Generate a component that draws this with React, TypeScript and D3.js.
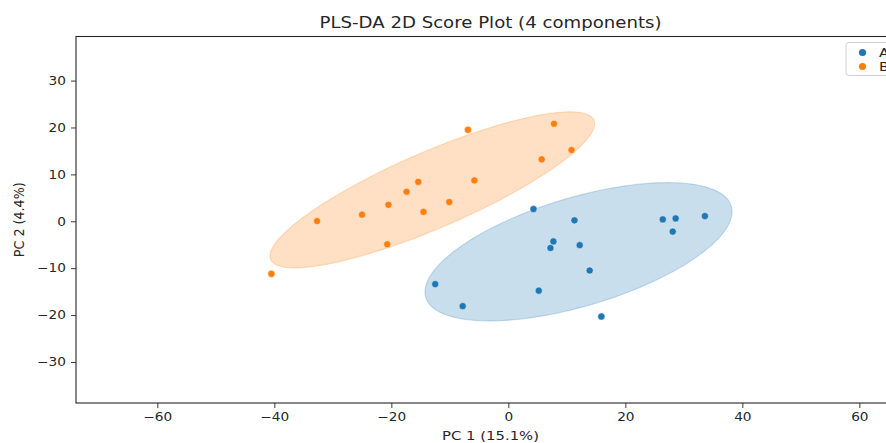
import React, { useEffect, useRef } from 'react';
import * as d3 from 'd3';

// PLS-DA scores, group A (blue)
const scoresA_pc1 = [4.3, 11.3, 7.7, 7.2, 12.2, 13.9, -12.5, -7.8, 5.2, 15.9, 26.4, 28.6, 28.1, 33.6];
const scoresA_pc2 = [2.6, 0.2, -4.3, -5.7, -5.1, -10.5, -13.4, -18.1, -14.8, -20.3, 0.4, 0.6, -2.2, 1.1];

// PLS-DA scores, group B (orange)
const scoresB_pc1 = [-32.7, -25.0, -20.5, -17.4, -15.4, -14.5, -20.7, -10.1, -5.8, -6.9, 5.7, 7.8, 10.8, -40.5];
const scoresB_pc2 = [0.05, 1.4, 3.5, 6.3, 8.4, 2.0, -4.9, 4.1, 8.7, 19.5, 13.2, 20.8, 15.2, -11.2];

const groups = ['A', 'B'];
const groupColors = ['#1f77b4', '#ff7f0e'];

// confidence ellipses (data units), one per group
const ellipseCenterX = [12.0, -13.0];
const ellipseCenterY = [-6.5, 6.7];
const ellipseRadiusMajor = [27.9, 31.4];
const ellipseRadiusMinor = [11.3, 7.8];
const ellipseAngle = [21.8, 28.9]; // degrees

const xTicks = [-60, -40, -20, 0, 20, 40, 60];
const yTicks = [-30, -20, -10, 0, 10, 20, 30];

const title = 'PLS-DA 2D Score Plot (4 components)';
const xLabel = 'PC 1 (15.1%)';
const yLabel = 'PC 2 (4.4%)';

export default function App() {
    const svgRef = useRef<SVGSVGElement>(null);

    useEffect(() => {
        const svg = d3.select(svgRef.current);
        svg.selectAll('*').remove();

        const W = 886, H = 443;
        const left = 76, right = 905, top = 36.5, bottom = 403;
        const stretch = 1.17; // the source picture is a bit wider than tall
        const font = 'DejaVu Sans, sans-serif';
        const ink = '#262626';

        const x = d3.scaleLinear().domain([-73.9, 67.8]).range([left, right]);
        const y = d3.scaleLinear().domain([-38.75, 39.4]).range([bottom, top]);

        svg.attr('width', W).attr('height', H);
        svg.append('rect').attr('width', W).attr('height', H).attr('fill', '#fff');

        // clip for the plotting area
        svg.append('defs').append('clipPath').attr('id', 'plotArea')
            .append('rect')
            .attr('x', left).attr('y', top)
            .attr('width', right - left).attr('height', bottom - top);

        const plot = svg.append('g').attr('clip-path', 'url(#plotArea)');

        // ellipses
        const ellipsePoints = (g: number) => {
            const a = ellipseAngle[g] * Math.PI / 180;
            return d3.range(0, 201).map(i => {
                const t = (i / 200) * Math.PI * 2;
                const ex = ellipseRadiusMajor[g] * Math.cos(t);
                const ey = ellipseRadiusMinor[g] * Math.sin(t);
                return [
                    ellipseCenterX[g] + ex * Math.cos(a) - ey * Math.sin(a),
                    ellipseCenterY[g] + ex * Math.sin(a) + ey * Math.cos(a)
                ] as [number, number];
            });
        };
        const line = d3.line<[number, number]>().x(d => x(d[0])).y(d => y(d[1]));

        groups.forEach((grp, g) => {
            plot.append('path')
                .attr('d', line(ellipsePoints(g)) + 'Z')
                .attr('fill', groupColors[g])
                .attr('fill-opacity', 0.24)
                .attr('stroke', groupColors[g])
                .attr('stroke-opacity', 0.22)
                .attr('stroke-width', 1.2);
        });

        // points
        const seriesX = [scoresA_pc1, scoresB_pc1];
        const seriesY = [scoresA_pc2, scoresB_pc2];
        groups.forEach((grp, g) => {
            plot.append('g')
                .selectAll('circle')
                .data(seriesX[g].map((v, i) => [v, seriesY[g][i]]))
                .enter()
                .append('circle')
                .attr('cx', d => x(d[0]))
                .attr('cy', d => y(d[1]))
                .attr('r', 3.6)
                .attr('fill', groupColors[g])
                .attr('stroke', '#fff')
                .attr('stroke-width', 0.5);
        });

        // axes
        const xAxis = svg.append('g')
            .attr('transform', `translate(0,${bottom})`)
            .call(d3.axisBottom(x).tickValues(xTicks).tickSize(5).tickPadding(5));
        xAxis.select('.domain').remove();
        xAxis.selectAll('line').attr('stroke', ink).attr('stroke-width', 0.9);
        xAxis.selectAll('text')
            .attr('fill', ink)
            .attr('transform', `scale(${stretch},1)`)
            .style('font-family', font)
            .style('font-size', '11.7px');

        const yAxis = svg.append('g')
            .attr('transform', `translate(${left},0)`)
            .call(d3.axisLeft(y).tickValues(yTicks).tickSize(5).tickPadding(5));
        yAxis.select('.domain').remove();
        yAxis.selectAll('line').attr('stroke', ink).attr('stroke-width', 0.9);
        yAxis.selectAll('text')
            .attr('fill', ink)
            .attr('x', -10 / stretch)
            .attr('transform', `scale(${stretch},1)`)
            .style('font-family', font)
            .style('font-size', '11.7px');

        // frame
        svg.append('rect')
            .attr('x', left).attr('y', top)
            .attr('width', right - left).attr('height', bottom - top)
            .attr('fill', 'none')
            .attr('stroke', ink)
            .attr('stroke-width', 1.1);

        // title and labels
        svg.append('text')
            .attr('transform', `translate(${(left + right) / 2},28.3) scale(${stretch},1)`)
            .attr('text-anchor', 'middle')
            .attr('fill', ink)
            .style('font-family', font)
            .style('font-size', '15.5px')
            .text(title);

        svg.append('text')
            .attr('transform', `translate(${(left + right) / 2},440) scale(${stretch},1)`)
            .attr('text-anchor', 'middle')
            .attr('fill', ink)
            .style('font-family', font)
            .style('font-size', '12.7px')
            .text(xLabel);

        svg.append('text')
            .attr('transform', `translate(24,${(top + bottom) / 2}) scale(${stretch},1) rotate(-90)`)
            .attr('text-anchor', 'middle')
            .attr('fill', ink)
            .style('font-family', font)
            .style('font-size', '12.7px')
            .text(yLabel);

        // legend
        const legend = svg.append('g').attr('transform', 'translate(846,42.5)');
        legend.append('rect')
            .attr('width', 48).attr('height', 33)
            .attr('rx', 3)
            .attr('fill', '#fff')
            .attr('fill-opacity', 0.8)
            .attr('stroke', '#d0d0d0');

        legend.selectAll('circle')
            .data(groups)
            .enter()
            .append('circle')
            .attr('cx', 16.5)
            .attr('cy', (d, i) => 10 + i * 14)
            .attr('r', 3.6)
            .attr('fill', (d, i) => groupColors[i]);

        legend.selectAll('text')
            .data(groups)
            .enter()
            .append('text')
            .attr('transform', (d, i) => `translate(33,${14.5 + i * 14}) scale(${stretch},1)`)
            .attr('fill', ink)
            .style('font-family', font)
            .style('font-size', '12.7px')
            .text(d => d);
    }, []);

    return (
        <div style={{ position: 'absolute', left: 0, top: 0, width: 886, height: 443, overflow: 'hidden' }}>
            <svg ref={svgRef} style={{ display: 'block' }}></svg>
        </div>
    );
}
